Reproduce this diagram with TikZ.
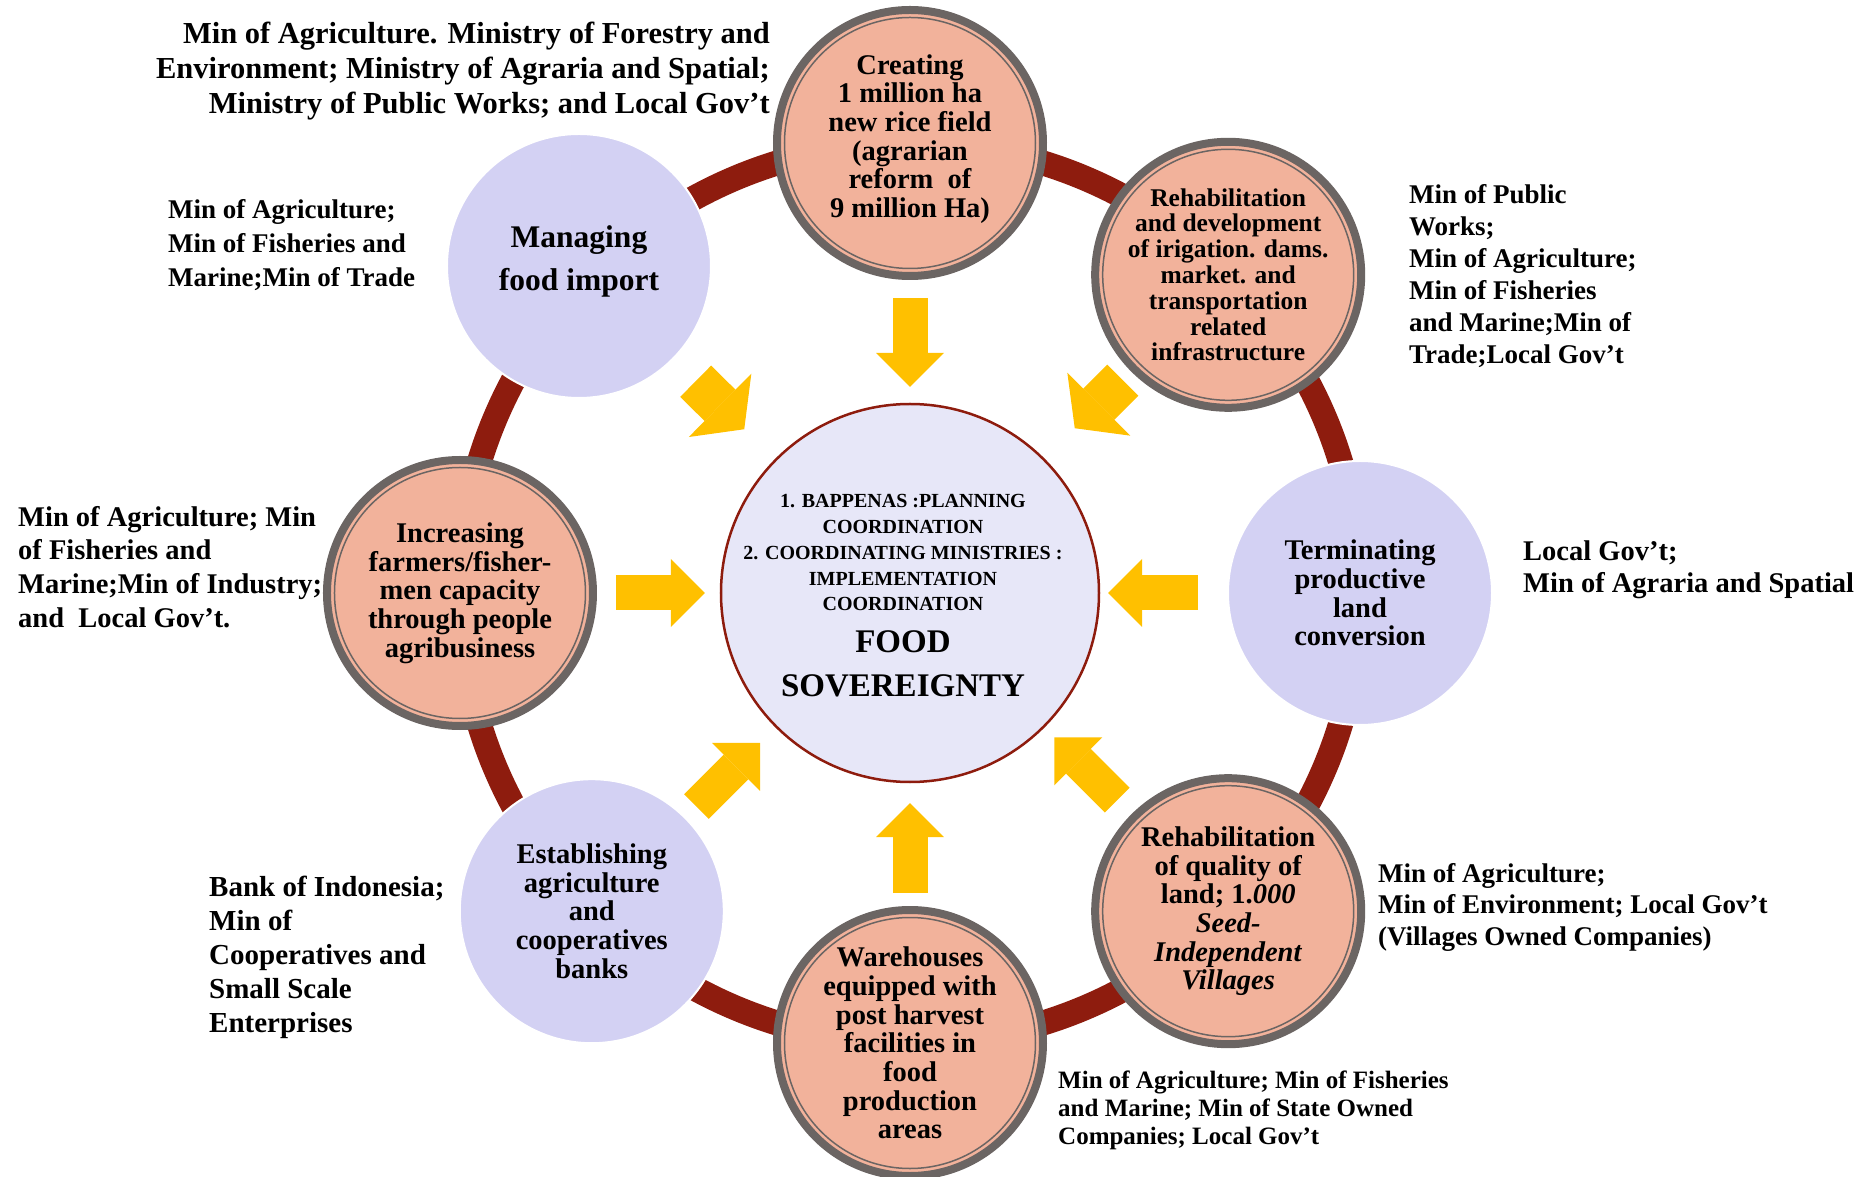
\documentclass[tikz,border=0pt]{standalone}
\usepackage{fontspec}
\setmainfont{Liberation Serif}
\usetikzlibrary{arrows.meta}
\definecolor{ringred}{RGB}{142,28,14}
\definecolor{pinkfill}{RGB}{242,178,155}
\definecolor{graybord}{RGB}{107,101,99}
\definecolor{lavfill}{RGB}{211,209,243}
\definecolor{hubfill}{RGB}{231,231,248}
\definecolor{arrowyellow}{RGB}{255,192,0}
\tikzstyle{ring} = [draw=ringred, line width=25pt]
\tikzstyle{pinkball} = [circle, minimum size=266pt, inner sep=0pt, outer sep=0pt, fill=pinkfill, draw=graybord, line width=8pt,
  path picture={\draw[graybord, line width=1.5pt] (path picture bounding box.center) circle (125.5pt);}]
\tikzstyle{lavball} = [circle, minimum size=264pt, inner sep=0pt, outer sep=0pt, fill=lavfill, draw=white, line width=2pt]
\tikzstyle{hub} = [circle, minimum size=378pt, inner sep=0pt, outer sep=0pt, fill=hubfill, draw=ringred, line width=2.5pt]
\tikzstyle{balltext} = [align=center, inner sep=0pt, font={\bfseries\fontsize{28.5}{28.7}\selectfont}]
\tikzstyle{minlist} = [align=left, inner sep=0pt, font={\bfseries\fontsize{28}{34}\selectfont}]
\tikzstyle{pointer} = [draw=arrowyellow, line width=35pt, -{Triangle[length=34pt, width=68pt, line width=0pt]}]
\tikzstyle{fatpointer} = [draw=arrowyellow, line width=44pt, -{Triangle[length=34pt, width=89pt, line width=0pt]}]

\begin{document}
\begin{tikzpicture}[x=1pt, y=1pt]
\useasboundingbox (-910,-584) rectangle (955,593);

% big ring behind the circles
\draw[ring] (0,0) circle (450pt);

\node (hub) [hub] at (0,0) {};
\node (create) [pinkball] at (90:450pt) {};
\node (irrig) [pinkball] at (45:450pt) {};
\node (term) [lavball] at (0:450pt) {};
\node (land) [pinkball] at (-45:450pt) {};
\node (ware) [pinkball] at (-90:450pt) {};
\node (estab) [lavball] at (-135:450pt) {};
\node (incr) [pinkball] at (180:450pt) {};
\node (manage) [lavball] at (-331,327) {};

% texts in the circles
\node (planText) [balltext, anchor=north, font={\bfseries\fontsize{20}{25.7}\selectfont}] at (-7,98.5) {1. BAPPENAS :PLANNING\\ COORDINATION\\ 2. COORDINATING MINISTRIES :\\ IMPLEMENTATION\\ COORDINATION};
\node (goalText) [balltext, anchor=north, font={\bfseries\fontsize{33}{44}\selectfont}] at (-7,-37) {FOOD\\ SOVEREIGNTY};
\node (createText) [balltext] at ([yshift=4pt]create.center) {Creating\\ 1 million ha\\ new rice field\\ (agrarian\\ reform~ of\\ 9 million Ha)};
\node (irrigText) [balltext, font={\bfseries\fontsize{25.5}{25.8}\selectfont}] at (irrig.center) {Rehabilitation\\ and development\\ of irigation. dams.\\ market. and\\ transportation\\ related\\ infrastructure};
\node (termText) [balltext] at (term.center) {Terminating\\ productive\\ land\\ conversion};
\node (landText) [balltext] at (land.center) {Rehabilitation\\ of quality of\\ land; 1.\textit{000}\\ \textit{Seed-}\\ \textit{Independent}\\ \textit{Villages}};
\node (wareText) [balltext] at (ware.center) {Warehouses\\ equipped with\\ post harvest\\ facilities in\\ food\\ production\\ areas};
\node (estabText) [balltext] at (estab.center) {Establishing\\ agriculture\\ and\\ cooperatives\\ banks};
\node (incrText) [balltext] at (incr.center) {Increasing\\ farmers/fisher-\\ men capacity\\ through people\\ agribusiness};
\node (manageText) [balltext, font={\bfseries\fontsize{31.5}{43}\selectfont}] at ([yshift=5pt]manage.center) {Managing\\ food import};

% yellow arrows into the hub
\draw[pointer, shorten <=22pt, shorten >=17pt] (create) -- (hub);
\draw[fatpointer, shorten <=16pt, shorten >=44pt] (irrig) -- (hub);
\draw[pointer, shorten <=30pt, shorten >=9pt] (term) -- (hub);
\draw[pointer, shorten <=24pt, shorten >=15pt] (land) -- (hub);
\draw[pointer, shorten <=17pt, shorten >=21pt] (ware) -- (hub);
\draw[pointer, shorten <=16pt, shorten >=23pt] (estab) -- (hub);
\draw[pointer, shorten <=23pt, shorten >=16pt] (incr) -- (hub);
\draw[fatpointer, shorten <=32pt, shorten >=44pt] (manage) -- (hub);

% ministries in charge
\node (createMin) [minlist, align=right, anchor=north east, font={\bfseries\fontsize{30.5}{35}\selectfont}] at (-140,571) {Min of Agriculture. Ministry of Forestry and\\ Environment; Ministry of Agraria and Spatial;\\ Ministry of Public Works; and Local Gov’t};
\node (manageMin) [minlist, anchor=north west, font={\bfseries\fontsize{27}{34}\selectfont}] at (-742,394) {Min of Agriculture;\\ Min of Fisheries and\\ Marine;Min of Trade};
\node (irrigMin) [minlist, anchor=north west, font={\bfseries\fontsize{27}{32}\selectfont}] at (499,409) {Min of Public\\ Works;\\ Min of Agriculture;\\ Min of Fisheries\\ and Marine;Min of\\ Trade;Local Gov’t};
\node (termMin) [minlist, anchor=north west, font={\bfseries\fontsize{28.5}{32}\selectfont}] at (613,52) {Local Gov’t;\\ Min of Agraria and Spatial};
\node (landMin) [minlist, anchor=north west, font={\bfseries\fontsize{27}{31.5}\selectfont}] at (468,-270) {Min of Agriculture;\\ Min of Environment; Local Gov’t\\ (Villages Owned Companies)};
\node (wareMin) [minlist, anchor=north west, font={\bfseries\fontsize{25}{28}\selectfont}] at (148,-478) {Min of Agriculture; Min of Fisheries\\ and Marine; Min of State Owned\\ Companies; Local Gov’t};
\node (estabMin) [minlist, anchor=north west, font={\bfseries\fontsize{29}{34}\selectfont}] at (-701,-283) {Bank of Indonesia;\\ Min of\\ Cooperatives and\\ Small Scale\\ Enterprises};
\node (incrMin) [minlist, anchor=north west, font={\bfseries\fontsize{28.5}{33.7}\selectfont}] at (-892,87) {Min of Agriculture; Min\\ of Fisheries and\\ Marine;Min of Industry;\\ and~~Local Gov’t.};
\end{tikzpicture}
\end{document}
